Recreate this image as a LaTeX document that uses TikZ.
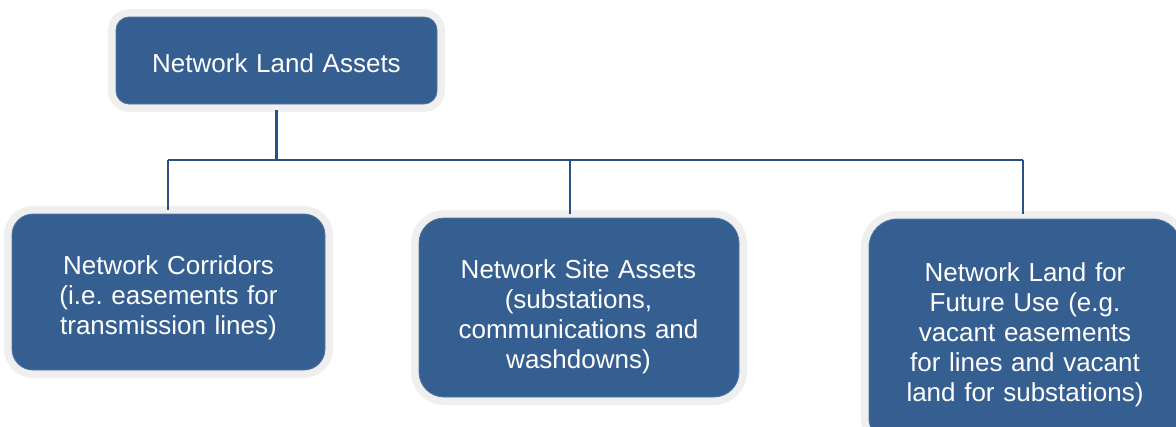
\documentclass[tikz,border=0pt]{standalone}
\usepackage{fontspec}
\setmainfont{Liberation Sans}
\frenchspacing
\definecolor{boxblue}{RGB}{54,95,145}
\definecolor{boxedge}{RGB}{80,118,165}
\definecolor{halo}{RGB}{239,239,239}
\definecolor{wire}{RGB}{42,80,134}

\begin{document}
\begin{tikzpicture}[x=1pt,y=-1pt,
  box/.style={rectangle, fill=boxblue, draw=boxedge, line width=0.8pt,
    preaction={draw=halo, line width=16pt}, inner sep=0pt},
  txt/.style={text=white, align=center, text width=310pt, anchor=base,
    inner sep=0pt, font=\fontsize{26}{30.2}\selectfont},
  wirestyle/.style={draw=wire, line width=2.4pt}
]
\useasboundingbox (0,0) rectangle (1176,426);
\clip (0,0) rectangle (1176,426);

% boxes
\node[box, minimum width=321pt, minimum height=87pt, rounded corners=13pt, outer sep=6pt]
  (top) at (276.5,60.5) {};
\node[box, minimum width=313pt, minimum height=156pt, rounded corners=21pt, outer sep=4pt]
  (corr) at (168.5,292) {};
\node[box, minimum width=320pt, minimum height=179pt, rounded corners=25pt, outer sep=4pt]
  (site) at (579,307.5) {};
\node[box, minimum width=312pt, minimum height=227pt, rounded corners=28pt, outer sep=5pt]
  (future) at (1025,332.5) {};

% texts
\node[txt] (top-t) at (276.5,72) {Network Land Assets};
\node[txt] (corr-t) at (168.5,274) {Network Corridors\\(i.e. easements for\\transmission lines)};
\node[txt] (site-t) at (578.5,278) {Network Site Assets\\(substations,\\communications and\\washdowns)};
\node[txt] (future-t) at (1025,281) {Network Land for\\Future Use (e.g.\\vacant easements\\for lines and vacant\\land for substations)};

% connectors
\coordinate (bl) at (168,160);
\coordinate (bm) at (570,160);
\coordinate (br) at (1023,160);
\draw[wirestyle] (top.south) -- (top.south |- bl);
\draw[wirestyle] (bl) -- (br);
\draw[wirestyle] (bl) -- (bl |- corr.north);
\draw[wirestyle] (bm) -- (bm |- site.north);
\draw[wirestyle] (br) -- (br |- future.north);
\end{tikzpicture}
\end{document}
